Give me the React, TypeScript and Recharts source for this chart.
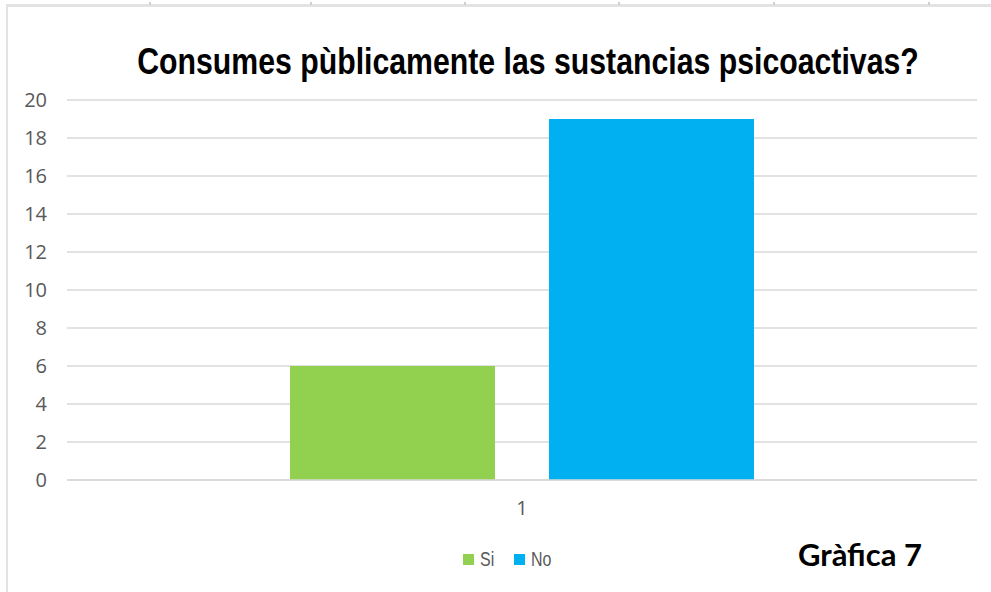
import React from 'react';
import { BarChart, Bar, XAxis, YAxis, CartesianGrid } from 'recharts';

const categories = ['1'];
const siValues = [6];
const noValues = [19];
const seriesNames = ['Si', 'No'];
const seriesColors = ['#92d050', '#00b0f0'];
const yTicks = [0, 2, 4, 6, 8, 10, 12, 14, 16, 18, 20];
const title = 'Consumes pùblicamente las sustancias psicoactivas?';
const caption = 'Gràfica 7';
const columnLines = [149, 310, 464, 618, 773, 928];

const data = categories.map((c, i) => ({ name: c, Si: siValues[i], No: noValues[i] }));

const tickFont = { fill: '#595959', fontSize: 20, fontFamily: '"Open Sans", sans-serif' };

export default function App() {
  return (
    <div style={{ position: 'fixed', left: 0, top: 0, width: 991, height: 592, background: '#fff', overflow: 'hidden' }}>
      <div style={{ position: 'absolute', left: 6, top: 4, width: 985, height: 3, background: '#e3e3e3' }} />
      {columnLines.map((x) => (
        <div key={x} style={{ position: 'absolute', left: x, top: 2, width: 2, height: 3, background: '#d0d0d0' }} />
      ))}
      <div style={{ position: 'absolute', left: 6, top: 4, width: 2, height: 588, background: '#e3e3e3' }} />
      <div
        style={{
          position: 'absolute',
          left: 527.5,
          top: 41,
          whiteSpace: 'nowrap',
          transform: 'translateX(-50%) scaleX(0.84)',
          fontFamily: '"Liberation Sans", Arial, sans-serif',
          fontWeight: 'bold',
          fontSize: 36,
          color: '#000',
        }}
      >
        {title}
      </div>
      <div style={{ position: 'absolute', left: 798, top: 536, whiteSpace: 'nowrap', fontFamily: 'Lato, "Open Sans", sans-serif', fontWeight: 'bold', fontSize: 31, lineHeight: 1.2, color: '#000' }}>
        {caption}
      </div>
      <div style={{ position: 'absolute', left: 463, top: 547, display: 'flex', alignItems: 'center', height: 24 }}>
        {seriesNames.map((n, i) => (
          <div key={n} style={{ display: 'flex', alignItems: 'center', marginRight: 19 }}>
            <span style={{ display: 'inline-block', width: 11, height: 11, background: seriesColors[i], marginRight: 6 }} />
            <span
              style={{
                display: 'inline-block',
                fontFamily: '"Liberation Sans", Arial, sans-serif',
                fontSize: 20,
                color: '#595959',
                transform: 'scaleX(0.8)',
                transformOrigin: 'left center',
                width: n === 'Si' ? 15 : 24,
              }}
            >
              {n}
            </span>
          </div>
        ))}
      </div>
      <BarChart
        width={991}
        height={592}
        data={data}
        margin={{ top: 100, right: 14, bottom: 82, left: 0 }}
        barCategoryGap={223}
        barGap={54}
      >
        <CartesianGrid vertical={false} stroke="#d9d9d9" strokeWidth={1.5} />
        <XAxis
          dataKey="name"
          height={30}
          axisLine={{ stroke: '#d9d9d9', strokeWidth: 1.5 }}
          tickLine={false}
          tickSize={0}
          tickMargin={21}
          tick={tickFont}
        />
        <YAxis
          width={67}
          domain={[0, 20]}
          ticks={yTicks}
          axisLine={false}
          tickLine={false}
          tickSize={0}
          tickMargin={20}
          tick={tickFont}
        />
        <Bar dataKey="Si" fill={seriesColors[0]} isAnimationActive={false} />
        <Bar dataKey="No" fill={seriesColors[1]} isAnimationActive={false} />
      </BarChart>
    </div>
  );
}
